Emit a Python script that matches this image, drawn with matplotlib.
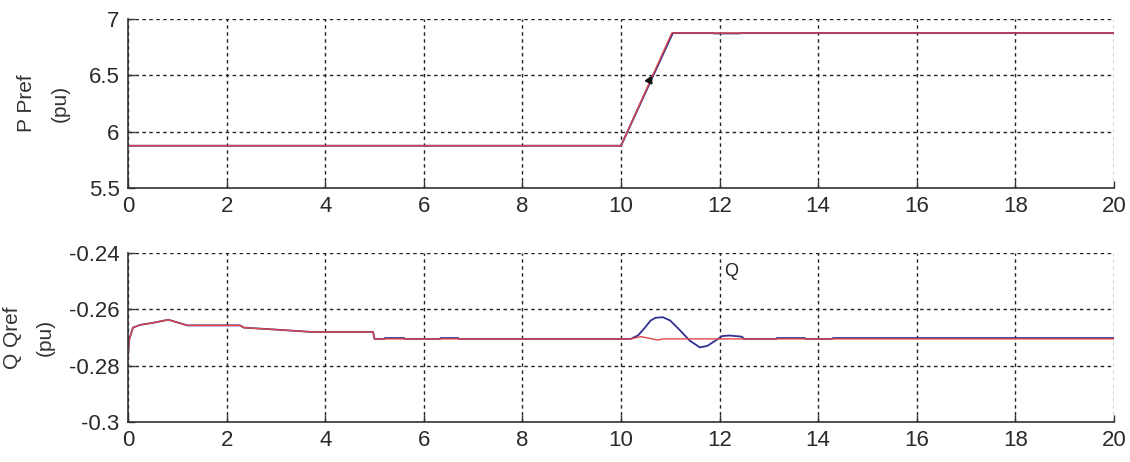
import matplotlib.pyplot as plt

plt.rcParams['font.family'] = ['Liberation Sans', 'DejaVu Sans']

# top panel: active power P (blue) and reference Pref (red), pu
t_p = [0, 10.0, 11.05, 11.85, 11.9, 12.4, 12.45, 20]
p_meas = [5.875, 5.875, 6.875, 6.875, 6.872, 6.872, 6.875, 6.875]
t_pref = [0, 10.0, 11.03, 20]
p_ref = [5.875, 5.875, 6.875, 6.875]
# small arrow head drawn on the ramp
arrow_t = 10.57
arrow_p = 6.46

# bottom panel: reactive power Q (blue) and reference Qref (red), pu
t_qref = [0, 0.02, 0.1, 0.25, 0.5, 0.82, 1.2, 2.27, 2.35, 3.0, 3.7, 4.97, 5.0,
          10.2, 10.4, 10.55, 10.75, 10.85, 11.0, 20]
q_ref = [-0.277, -0.271, -0.2665, -0.2655, -0.2648, -0.2637, -0.2657, -0.2657,
         -0.2665, -0.2672, -0.268, -0.268, -0.2705,
         -0.2705, -0.2697, -0.2702, -0.2709, -0.2705, -0.2705, -0.2705]

t_q = [0, 0.02, 0.1, 0.25, 0.5, 0.82, 1.2, 2.27, 2.35, 3.0, 3.7, 4.97, 5.0,
       5.2, 5.21, 5.6, 5.61, 6.33, 6.34, 6.7, 6.71,
       10.2, 10.35, 10.5, 10.6, 10.7, 10.85, 11.0, 11.2, 11.4, 11.6, 11.75, 11.97,
       12.05, 12.2, 12.45, 12.5,
       13.15, 13.16, 13.73, 13.74, 14.28, 14.3, 20]
q_meas = [-0.277, -0.271, -0.2665, -0.2655, -0.2648, -0.2637, -0.2657, -0.2657,
          -0.2665, -0.2672, -0.268, -0.268, -0.2705,
          -0.2705, -0.2702, -0.2702, -0.2705, -0.2705, -0.2702, -0.2702, -0.2705,
          -0.2705, -0.2692, -0.2662, -0.2640, -0.2630, -0.2628, -0.2640, -0.2675,
          -0.2712, -0.2735, -0.2730, -0.2705,
          -0.2695, -0.2693, -0.2697, -0.2705,
          -0.2705, -0.2702, -0.2702, -0.2705, -0.2705, -0.2702, -0.2702]

x_ticks = [0, 2, 4, 6, 8, 10, 12, 14, 16, 18, 20]
p_ticks = [5.5, 6, 6.5, 7]
p_tick_labels = ['5.5', '6', '6.5', '7']
q_ticks = [-0.3, -0.28, -0.26, -0.24]
q_tick_labels = ['-0.3', '-0.28', '-0.26', '-0.24']

fig = plt.figure(figsize=(11.3, 4.62), dpi=100)
ax1 = fig.add_axes([0.1133, 0.5931, 0.8725, 0.3658])
ax2 = fig.add_axes([0.1133, 0.0866, 0.8725, 0.3658])

blue = '#303090'
red = '#e04848'

for ax in (ax1, ax2):
    ax.spines['top'].set_visible(False)
    ax.spines['right'].set_visible(False)
    for s in ('left', 'bottom'):
        ax.spines[s].set_color('#333333')
        ax.spines[s].set_linewidth(1.2)
    ax.set_xlim(0, 20)
    ax.set_xticks(x_ticks)
    ax.tick_params(direction='in', length=5, width=1, colors='#333333',
                   labelsize=16, pad=6, labelcolor='#2a2a2a')
    ax.grid(True, color='#222222', linestyle=(0, (2.5, 2.5)), linewidth=1.0)
    ax.set_axisbelow(True)

ax1.plot(t_p, p_meas, color=blue, lw=1.4)
ax1.plot(t_pref, p_ref, color=red, lw=1.0)
ax1.plot(arrow_t, arrow_p, marker=(3, 0, -25), color='#111111', ms=6)
ax1.set_ylim(5.5, 7)
ax1.set_yticks(p_ticks)
ax1.set_yticklabels(p_tick_labels)

ax2.plot(t_q, q_meas, color=blue, lw=1.3)
ax2.plot(t_qref, q_ref, color=red, lw=1.0)
ax2.set_ylim(-0.3, -0.24)
ax2.set_yticks(q_ticks)
ax2.set_yticklabels(q_tick_labels)
ax2.text(12.1, -0.2465, 'Q', fontsize=13, va='center', ha='left', color='#222222')

fig.text(26 / 1130, 1 - 103.5 / 462, 'P Pref', rotation=90, ha='center', va='center',
         fontsize=15, color='#333333')
fig.text(60 / 1130, 1 - 103.5 / 462, '(pu)', rotation=90, ha='center', va='center',
         fontsize=15, color='#333333')
fig.text(12 / 1130, 1 - 337.5 / 462, 'Q Qref', rotation=90, ha='center', va='center',
         fontsize=15, color='#333333')
fig.text(45 / 1130, 1 - 337.5 / 462, '(pu)', rotation=90, ha='center', va='center',
         fontsize=15, color='#333333')

fig.savefig('out.png', dpi=100, facecolor='white')
